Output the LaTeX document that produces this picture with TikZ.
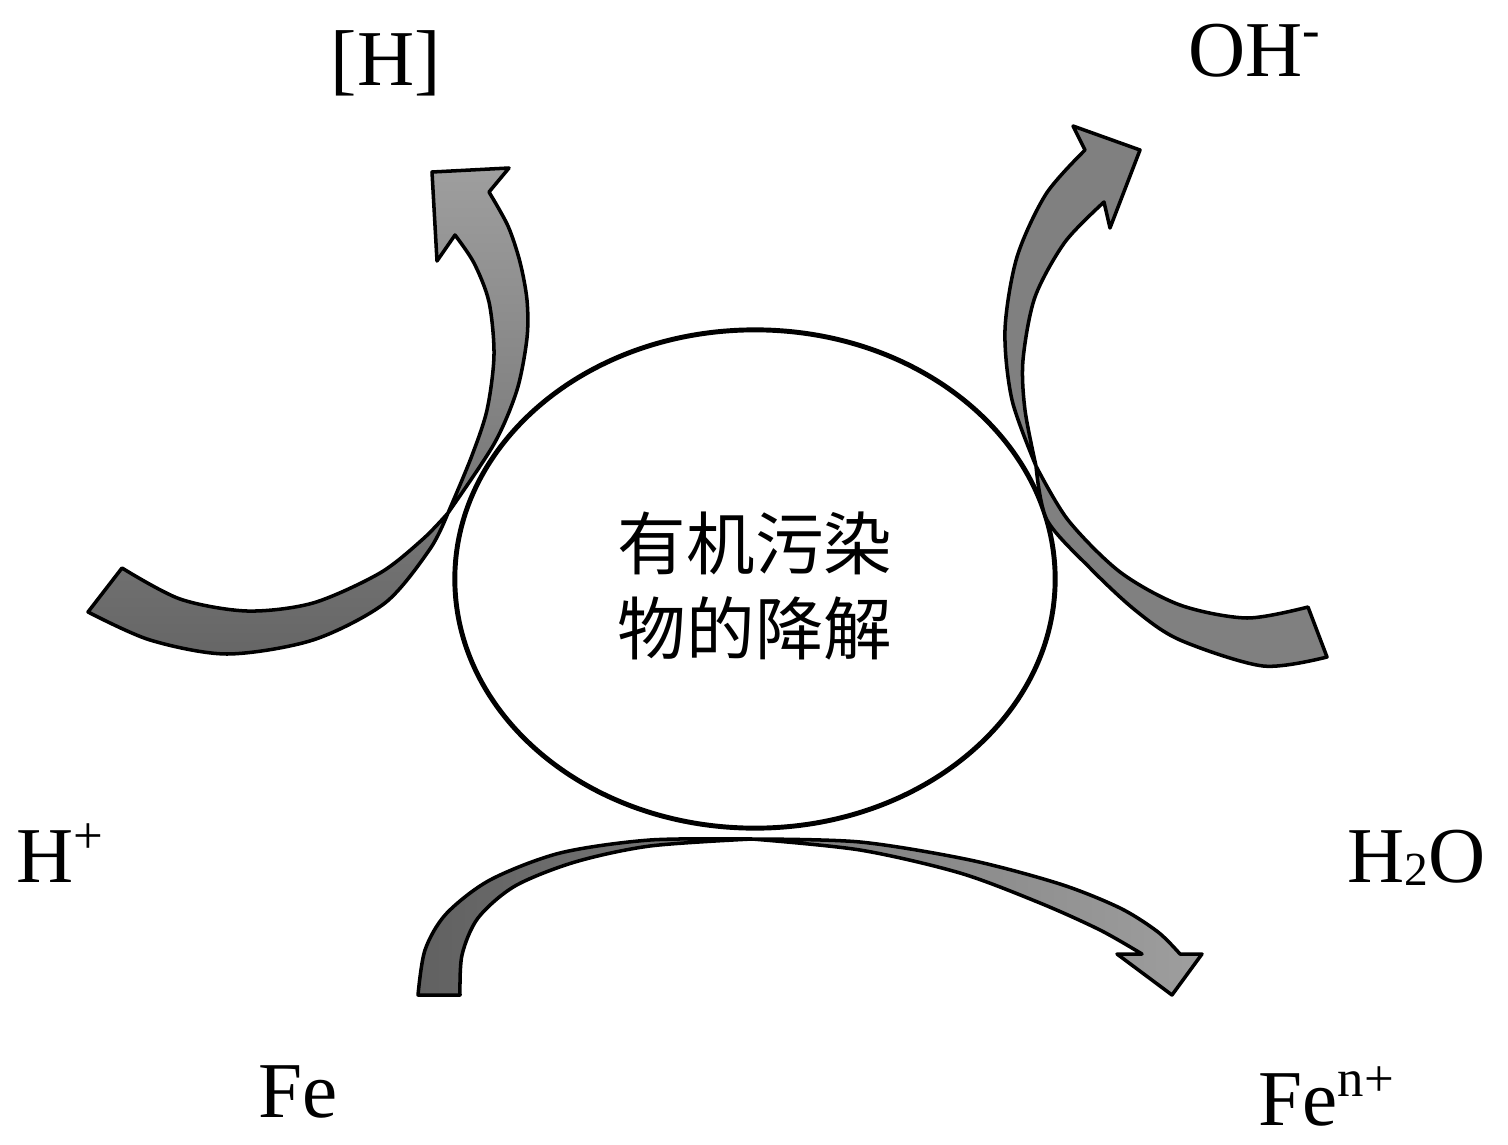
\documentclass[tikz,border=0pt]{standalone}
\usepackage{fontspec}
\setmainfont{Liberation Serif}
\newfontfamily\cjk{Noto Sans CJK SC}
\usetikzlibrary{shapes.geometric}

\newcommand{\chemsup}[1]{\raisebox{8.2pt}{\fontsize{15pt}{15pt}\selectfont #1}}
\newcommand{\chemsub}[1]{\raisebox{-1pt}{\fontsize{13.5pt}{13.5pt}\selectfont #1}}

\tikzset{
  ribbon/.style={draw=black, line width=1pt, line join=round},
  species/.style={anchor=base west, inner sep=0pt, font=\fontsize{22.5pt}{22.5pt}\selectfont}
}

\begin{document}
\begin{tikzpicture}[x=0.01cm, y=-0.01cm, line join=round, line cap=round]
\path[use as bounding box] (0,0) rectangle (1508,1145);

% Central ellipse
\node[draw, ellipse, line width=1.4pt, minimum width=6cm, minimum height=4.98cm, inner sep=0pt]
  (pollutant) at (755,579) {};
\node[font=\cjk\fontsize{19.5pt}{24.1pt}\selectfont, align=center, inner sep=0pt]
  (pollutanttext) at (755,586) {有机污染\\物的降解};

% Pinch points where each ribbon touches the ellipse
\coordinate (leftpinch) at (448,513);
\coordinate (rightpinch) at (1036,466);
\coordinate (bottompinch) at (752,839);

% Left ribbon: H+ up to [H]
\draw[ribbon, top color=black!38, bottom color=black!60]
  plot[smooth] coordinates {(122,568) (180,599) (247,611) (313,603) (380,573) (423,539) (leftpinch)}
  -- plot[smooth] coordinates {(leftpinch) (471,458) (487,410) (494,355) (489,302) (474,263) (455,235)}
  -- (437,261) -- (432,172) -- (509,168) -- (489,192)
  -- plot[smooth] coordinates {(489,192) (508,226) (520,262) (527,300) (527,338) (517,390) (494,444) (leftpinch)}
  -- plot[smooth] coordinates {(leftpinch) (430,549) (385,603) (313,640) (227,654) (150,640) (88,612)}
  -- cycle;

% Right ribbon: H2O up to OH-
\draw[ribbon, fill=black!50]
  plot[smooth] coordinates {(1308,607) (1247,618) (1180,605) (1120,572) (1068,520) (rightpinch)}
  -- plot[smooth] coordinates {(rightpinch) (1025,410) (1023,360) (1035,297) (1065,242) (1104,202)}
  -- (1110,228) -- (1140,150) -- (1073,126) -- (1085,150)
  -- plot[smooth] coordinates {(1085,150) (1046,194) (1017,257) (1005,330) (1012,400) (rightpinch)}
  -- plot[smooth] coordinates {(rightpinch) (1047,520) (1090,568) (1135,610) (1180,640) (1263,666) (1327,657)}
  -- cycle;

% Bottom ribbon: Fe across to Fe(n+)
\draw[ribbon, left color=black!62, right color=black!38]
  plot[smooth] coordinates {(460,995) (462,955) (478,918) (515,886) (575,862) (650,846) (bottompinch)}
  -- plot[smooth] coordinates {(bottompinch) (860,850) (960,873) (1040,903) (1100,930) (1142,954)}
  -- (1117,954) -- (1172,995) -- (1202,954) -- (1180,954)
  -- plot[smooth] coordinates {(1180,954) (1158,932) (1120,908) (1060,884) (970,860) (860,842) (bottompinch)}
  -- plot[smooth] coordinates {(bottompinch) (650,840) (560,853) (490,880) (446,914) (425,950) (418,995)}
  -- cycle;

% Species
\node[species] (hydrogen) at (330,85) {[H]};
\node[species] (hydroxide) at (1188,76) {OH\chemsup{-}};
\node[species] (proton) at (16,882) {H\chemsup{+}};
\node[species] (water) at (1347,882) {H\chemsub{2}O};
\node[species] (iron) at (258,1117) {Fe};
\node[species] (ironion) at (1258,1125) {Fe\chemsup{n+}};
\end{tikzpicture}
\end{document}
